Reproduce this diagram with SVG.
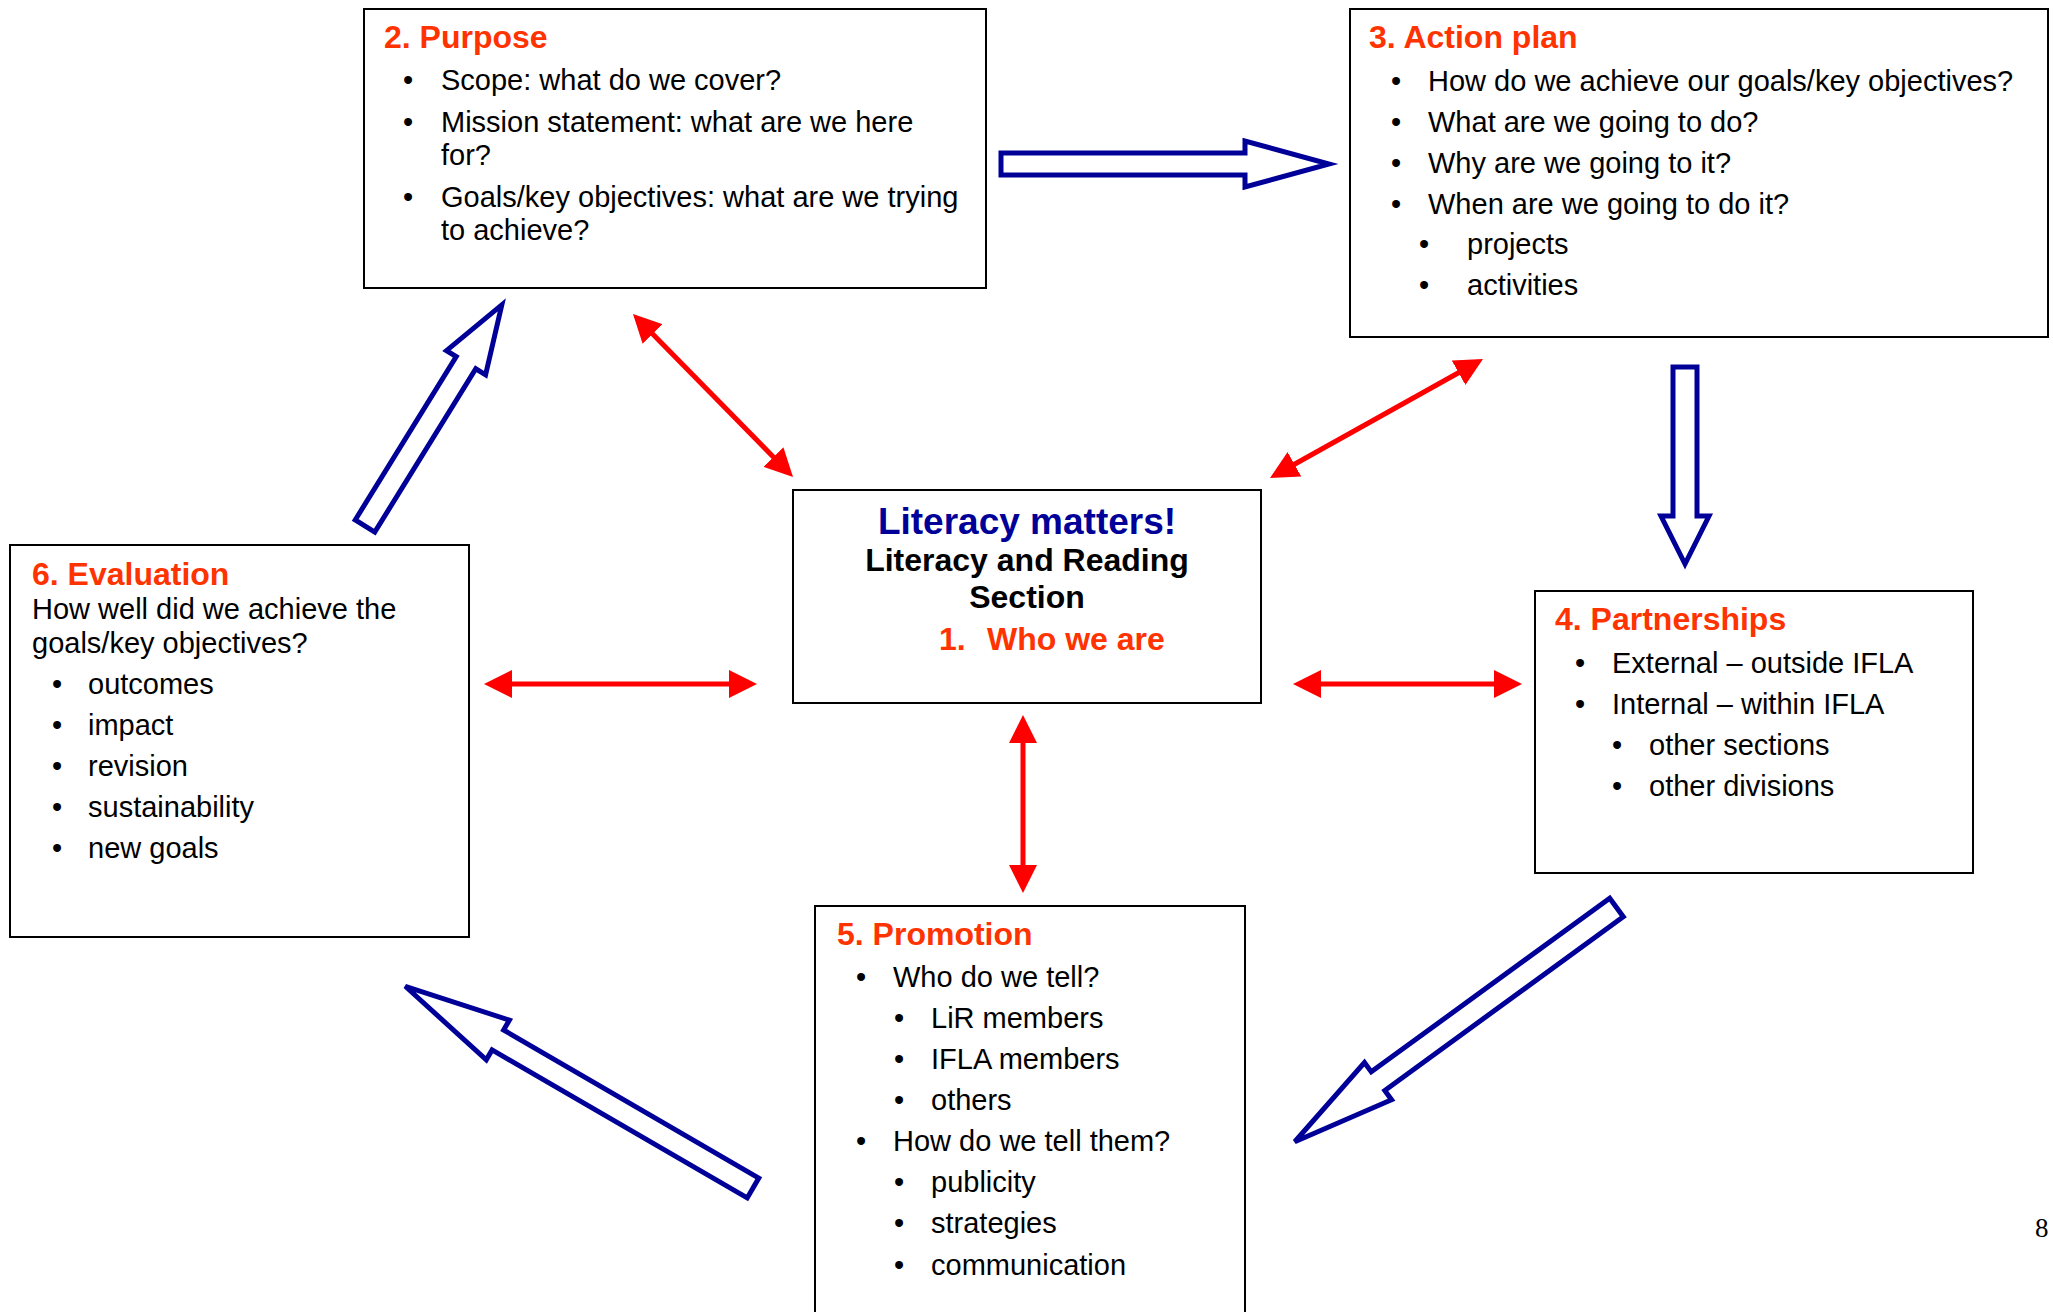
<svg xmlns="http://www.w3.org/2000/svg" width="2053" height="1312" viewBox="0 0 2053 1312">
<style>
.box{fill:#fff;stroke:#000;stroke-width:2}
text{font-family:"Liberation Sans",Arial,sans-serif}
.t{font-size:32px;font-weight:bold;fill:#FF3300}
.b{font-size:29px;fill:#000}
.bl{font-size:29px;fill:#000;text-anchor:middle}
.red{stroke:#FF0000;stroke-width:5;fill:none;marker-start:url(#rh);marker-end:url(#rh)}
.blue{fill:#fff;stroke:#000099;stroke-width:5}
</style>
<defs>
<marker id="rh" markerUnits="userSpaceOnUse" markerWidth="28" markerHeight="28" refX="2" refY="14" orient="auto-start-reverse" viewBox="0 0 28 28">
<path d="M0,0 L28,14 L0,28 z" fill="#FF0000"/>
</marker>
</defs>
<rect width="2053" height="1312" fill="#fff"/>

<g id="connectors">
<polygon class="blue" points="1001,153 1245,153 1245,141 1329,164 1245,187 1245,175 1001,175"/>
<polygon class="blue" points="1673,367 1697,367 1697,516 1709,516 1685,564 1661,516 1673,516"/>
<polygon class="blue" transform="translate(365,526) rotate(-58.25)" points="0,-11.5 192,-11.5 192,-23 260,0 192,23 192,11.5 0,11.5"/>
<polygon class="blue" transform="translate(1616.5,907.5) rotate(143.94)" points="0,-11.5 295,-11.5 295,-23 398,0 295,23 295,11.5 0,11.5"/>
<polygon class="blue" transform="translate(753,1188) rotate(210.12)" points="0,-11.5 295,-11.5 295,-23 402,0 295,23 295,11.5 0,11.5"/>
<line class="red" x1="651.2" y1="332.6" x2="774.8" y2="458.4"/>
<line class="red" x1="1460.3" y1="371.7" x2="1292.7" y2="465.3"/>
<line class="red" x1="510" y1="684" x2="731" y2="684"/>
<line class="red" x1="1319" y1="684" x2="1496" y2="684"/>
<line class="red" x1="1023" y1="741" x2="1023" y2="867"/>
</g>

<g id="purpose">
<rect class="box" x="364" y="9" width="622" height="279"/>
<text class="t" x="384" y="48">2. Purpose</text>
<text class="bl" x="408" y="90">•</text><text class="b" x="441" y="90">Scope: what do we cover?</text>
<text class="bl" x="408" y="132">•</text><text class="b" x="441" y="132">Mission statement: what are we here</text>
<text class="b" x="441" y="165">for?</text>
<text class="bl" x="408" y="207">•</text><text class="b" x="441" y="207">Goals/key objectives: what are we trying</text>
<text class="b" x="441" y="240">to achieve?</text>
</g>

<g id="action-plan">
<rect class="box" x="1350" y="9" width="698" height="328"/>
<text class="t" x="1369" y="48">3. Action plan</text>
<text class="bl" x="1396" y="91">•</text><text class="b" x="1428" y="91">How do we achieve our goals/key objectives?</text>
<text class="bl" x="1396" y="132">•</text><text class="b" x="1428" y="132">What are we going to do?</text>
<text class="bl" x="1396" y="173">•</text><text class="b" x="1428" y="173">Why are we going to it?</text>
<text class="bl" x="1396" y="214">•</text><text class="b" x="1428" y="214">When are we going to do it?</text>
<text class="bl" x="1424" y="254">•</text><text class="b" x="1467" y="254">projects</text>
<text class="bl" x="1424" y="295">•</text><text class="b" x="1467" y="295">activities</text>
</g>

<g id="center">
<rect class="box" x="793" y="490" width="468" height="213"/>
<text x="1027" y="534" text-anchor="middle" font-size="37" font-weight="bold" fill="#000099">Literacy matters!</text>
<text x="1027" y="571" text-anchor="middle" font-size="32" font-weight="bold" fill="#000">Literacy and Reading</text>
<text x="1027" y="608" text-anchor="middle" font-size="32" font-weight="bold" fill="#000">Section</text>
<text x="939" y="650" font-size="32" font-weight="bold" fill="#FF3300">1.</text>
<text x="987" y="650" font-size="32" font-weight="bold" fill="#FF3300">Who we are</text>
</g>

<g id="evaluation">
<rect class="box" x="10" y="545" width="459" height="392"/>
<text class="t" x="32" y="585">6. Evaluation</text>
<text class="b" x="32" y="619">How well did we achieve the</text>
<text class="b" x="32" y="653">goals/key objectives?</text>
<text class="bl" x="57" y="694">•</text><text class="b" x="88" y="694">outcomes</text>
<text class="bl" x="57" y="735">•</text><text class="b" x="88" y="735">impact</text>
<text class="bl" x="57" y="776">•</text><text class="b" x="88" y="776">revision</text>
<text class="bl" x="57" y="817">•</text><text class="b" x="88" y="817">sustainability</text>
<text class="bl" x="57" y="858">•</text><text class="b" x="88" y="858">new goals</text>
</g>

<g id="partnerships">
<rect class="box" x="1535" y="591" width="438" height="282"/>
<text class="t" x="1555" y="630">4. Partnerships</text>
<text class="bl" x="1580" y="673">•</text><text class="b" x="1612" y="673">External – outside IFLA</text>
<text class="bl" x="1580" y="714">•</text><text class="b" x="1612" y="714">Internal – within IFLA</text>
<text class="bl" x="1617" y="755">•</text><text class="b" x="1649" y="755">other sections</text>
<text class="bl" x="1617" y="796">•</text><text class="b" x="1649" y="796">other divisions</text>
</g>

<g id="promotion">
<rect class="box" x="815" y="906" width="430" height="420"/>
<text class="t" x="837" y="945">5. Promotion</text>
<text class="bl" x="861" y="987">•</text><text class="b" x="893" y="987">Who do we tell?</text>
<text class="bl" x="899" y="1028">•</text><text class="b" x="931" y="1028">LiR members</text>
<text class="bl" x="899" y="1069">•</text><text class="b" x="931" y="1069">IFLA members</text>
<text class="bl" x="899" y="1110">•</text><text class="b" x="931" y="1110">others</text>
<text class="bl" x="861" y="1151">•</text><text class="b" x="893" y="1151">How do we tell them?</text>
<text class="bl" x="899" y="1192">•</text><text class="b" x="931" y="1192">publicity</text>
<text class="bl" x="899" y="1233">•</text><text class="b" x="931" y="1233">strategies</text>
<text class="bl" x="899" y="1275">•</text><text class="b" x="931" y="1275">communication</text>
</g>

<text x="2035" y="1237" style="font-family:'Liberation Serif',serif" font-size="27" fill="#000">8</text>
</svg>
